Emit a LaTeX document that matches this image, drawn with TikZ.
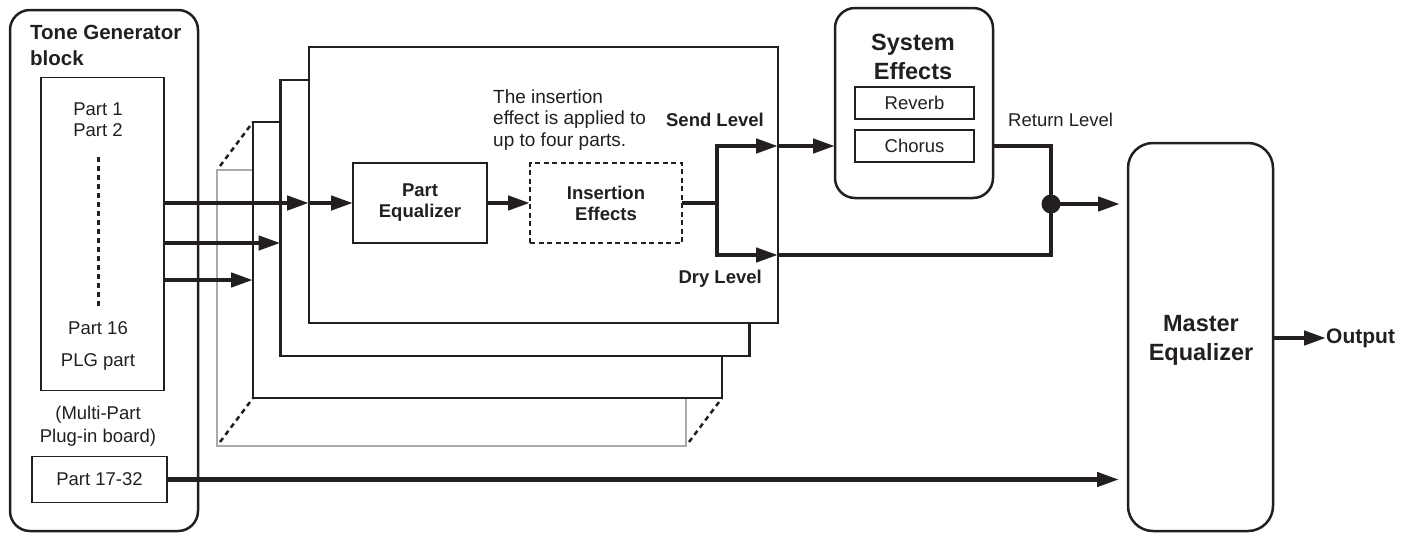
\documentclass[tikz,border=0pt]{standalone}
\usepackage{fontspec}
\setmainfont{Liberation Sans}
\usetikzlibrary{arrows.meta,calc}
\definecolor{ink}{HTML}{231F20}
\definecolor{framegray}{HTML}{AAAAAA}
\begin{document}
\begin{tikzpicture}[x=1pt,y=-1pt,
  box/.style={draw=ink, line width=2.5pt, inner sep=0pt, outer sep=0pt},
  thinbox/.style={draw=ink, line width=1.3pt, inner sep=0pt, outer sep=0pt},
  rbox/.style={box, rounded corners=20pt},
  frame/.style={draw=ink, fill=white, line width=2.5pt, minimum width=469pt, minimum height=276pt, inner sep=0pt, outer sep=0pt},
  arr/.style={draw=ink, line width=4.5pt, -{Triangle[length=22pt,width=14pt]}},
  wire/.style={draw=ink, line width=4.5pt},
  dia/.style={draw=ink, line width=2.5pt, dash pattern=on 5pt off 4pt},
  reg/.style={font=\fontsize{18.5}{21.5}\selectfont, text=ink, inner sep=0pt},
  bsm/.style={font=\bfseries\fontsize{18.5}{21}\selectfont, text=ink, inner sep=0pt},
  btg/.style={font=\bfseries\fontsize{20.5}{26}\selectfont, text=ink, inner sep=0pt},
  bbig/.style={font=\bfseries\fontsize{23.5}{29}\selectfont, text=ink, inner sep=0pt},
]
\useasboundingbox (0,0) rectangle (1415,533);

% Tone generator block
\node[rbox, minimum width=188pt, minimum height=521pt] (tg) at (104,270.5) {};
\node[btg, align=left, anchor=west] (tgtitle) at (30,45.5) {Tone Generator\\block};
\node[thinbox, minimum width=123pt, minimum height=313pt] (inner) at (102.5,234) {};
\node[reg, align=center] (p12) at (98,119.5) {Part 1\\Part 2};
\coordinate (dtop) at (98.5,157);
\coordinate (dbot) at (98.5,309.5);
\draw[ink, line width=2.5pt, dash pattern=on 5pt off 4pt] (dtop) -- (dbot);
\node[reg, anchor=base] (p16) at (98,334) {Part 16};
\node[reg, anchor=base] (plg) at (98,366.5) {PLG part};
\node[reg, align=center, font=\fontsize{18.5}{22.5}\selectfont] (mp) at (98,426) {(Multi-Part\\Plug-in board)};
\node[thinbox, minimum width=135pt, minimum height=46pt, reg] (p17) at (99.5,479.5) {Part 17-32};

% stacked frames
\node[frame, draw=framegray, line width=2pt] (g) at (451.5,308) {};
\node[frame] (f3) at (487.5,260) {};
\node[frame] (f2) at (515,218) {};
\node[frame] (f1) at (543.5,185) {};
\draw[dia, shorten <=5pt] (g.north west) -- (f3.north west);
\draw[dia, shorten <=5pt] (g.south west) -- (f3.south west);
\draw[dia, shorten <=5pt] (g.south east) -- (f3.south east);

% inside front frame
\node[box, minimum width=134pt, minimum height=80pt, bsm, align=center] (peq) at (420,203) {Part\\Equalizer};
\node[box, dash pattern=on 5pt off 3.5pt, minimum width=152pt, minimum height=80pt, bsm, align=center] (ins) at (606,203) {Insertion\\Effects};
\node[reg, font=\fontsize{19}{21.5}\selectfont, align=left, anchor=west] (note) at (493,120) {The insertion\\effect is applied to\\up to four parts.};
\node[bsm, anchor=base east] (send) at (764,126) {Send Level};
\node[bsm, anchor=base east] (dry) at (762,283) {Dry Level};

% part arrows
\draw[arr] (inner.east |- peq.west) -- (f1.west |- peq.west);
\draw[arr] (f1.west |- peq.west) -- (peq.west);
\draw[arr] (inner.east |- 0,243) -- (f2.west |- 0,243);
\draw[arr] (inner.east |- 0,280) -- (f3.west |- 0,280);
\draw[arr] (peq.east) -- (ins.west);

% branch
\coordinate (br) at (717,203);
\coordinate (sendo) at (778,146);
\coordinate (dryo) at (778,255);
\draw[wire, line cap=butt] (ins.east) -- (br);
\draw[arr] (br) |- (sendo);
\draw[arr] (br) |- (dryo);

% system effects
\node[rbox, minimum width=158pt, minimum height=190pt] (se) at (914,103) {};
\node[bbig, align=center] (setitle) at (913,57) {System\\Effects};
\node[thinbox, minimum width=119pt, minimum height=32pt, reg] (rev) at (914.5,103) {Reverb};
\node[thinbox, minimum width=119pt, minimum height=32pt, reg] (cho) at (914.5,146) {Chorus};
\draw[arr] (sendo) -- (se.west |- sendo);
\node[reg, anchor=base west] (ret) at (1008,126) {Return Level};

% return + dry mix
\coordinate (j) at (1051,204);
\draw[wire, line join=miter] (se.east |- sendo) -| (j);
\draw[wire, line join=miter] (dryo) -| (j);
\fill[ink] (j) circle (9.5pt);

% master equalizer
\node[box, rounded corners=25pt, minimum width=145pt, minimum height=388pt] (me) at (1200.5,337) {};
\node[bbig, align=center] (metitle) at (1201,340) {Master\\Equalizer};
\draw[arr, shorten >=8pt] (j) -- (me.west |- j);
\draw[arr, shorten >=9pt] (p17.east) -- (me.west |- p17.east);
\node[bsm, font=\bfseries\fontsize{21}{24}\selectfont, anchor=west] (out) at (1326,338) {Output};
\draw[arr] (me.east |- out.west) -- (out.west);
\end{tikzpicture}
\end{document}
